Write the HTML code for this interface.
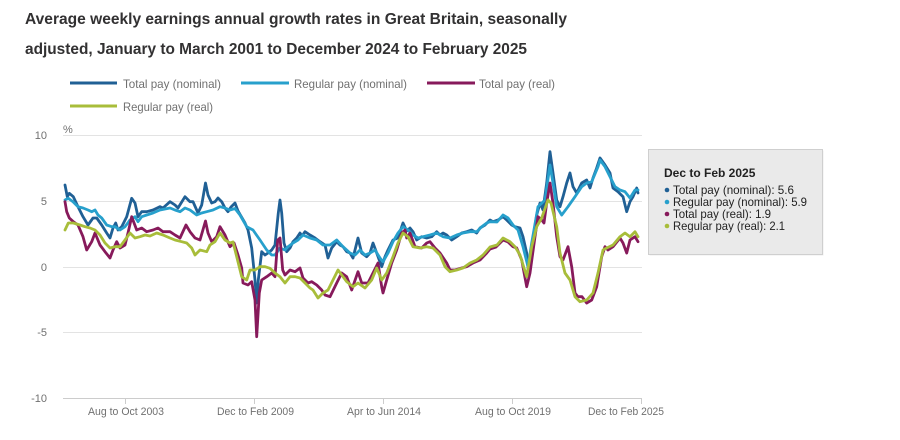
<!DOCTYPE html>
<html><head><meta charset="utf-8"><style>
html,body{margin:0;padding:0;background:#fff;}
svg{display:block;font-family:"Liberation Sans",Arial,sans-serif;}
</style></head><body>
<svg width="900" height="440" viewBox="0 0 900 440" xmlns="http://www.w3.org/2000/svg">
<rect width="900" height="440" fill="#fff"/>
<!-- title -->
<text x="25" y="24" font-size="16" font-weight="bold" fill="#323132" textLength="542" lengthAdjust="spacingAndGlyphs">Average weekly earnings annual growth rates in Great Britain, seasonally</text>
<text x="25" y="54" font-size="16" font-weight="bold" fill="#323132" textLength="502" lengthAdjust="spacingAndGlyphs">adjusted, January to March 2001 to December 2024 to February 2025</text>
<!-- legend -->
<g stroke-width="3" fill="none">
<line x1="70" y1="83" x2="117" y2="83" stroke="#206095"/>
<line x1="241" y1="83" x2="289" y2="83" stroke="#27a0cc"/>
<line x1="427" y1="83" x2="475" y2="83" stroke="#871a5b"/>
<line x1="70" y1="106" x2="117" y2="106" stroke="#a8bd3a"/>
</g>
<g font-size="12" fill="#707070">
<text x="123" y="88" textLength="98" lengthAdjust="spacingAndGlyphs">Total pay (nominal)</text>
<text x="294" y="88" textLength="113" lengthAdjust="spacingAndGlyphs">Regular pay (nominal)</text>
<text x="479" y="88" textLength="76" lengthAdjust="spacingAndGlyphs">Total pay (real)</text>
<text x="123" y="111" textLength="90" lengthAdjust="spacingAndGlyphs">Regular pay (real)</text>
</g>
<!-- grid -->
<g stroke="#e3e3e3" stroke-width="1">
<line x1="63" y1="135.5" x2="642" y2="135.5"/>
<line x1="63" y1="201.5" x2="642" y2="201.5"/>
<line x1="63" y1="267.5" x2="642" y2="267.5"/>
<line x1="63" y1="332.5" x2="642" y2="332.5"/>
</g>
<line x1="63" y1="398.5" x2="642" y2="398.5" stroke="#cccccc" stroke-width="1"/>
<g stroke="#cccccc" stroke-width="1">
<line x1="125.5" y1="398" x2="125.5" y2="404"/>
<line x1="254.5" y1="398" x2="254.5" y2="404"/>
<line x1="383.5" y1="398" x2="383.5" y2="404"/>
<line x1="512.5" y1="398" x2="512.5" y2="404"/>
<line x1="641.5" y1="398" x2="641.5" y2="404"/>
</g>
<!-- y labels -->
<g font-size="11" fill="#707070" text-anchor="end">
<text x="47" y="139">10</text>
<text x="47" y="205">5</text>
<text x="47" y="271">0</text>
<text x="47" y="336">-5</text>
<text x="47" y="402">-10</text>
</g>
<text x="63" y="133" font-size="11" fill="#707070">%</text>
<!-- x labels -->
<g font-size="11" fill="#707070">
<text x="88" y="415" textLength="76" lengthAdjust="spacingAndGlyphs">Aug to Oct 2003</text>
<text x="217" y="415" textLength="77" lengthAdjust="spacingAndGlyphs">Dec to Feb 2009</text>
<text x="347" y="415" textLength="74" lengthAdjust="spacingAndGlyphs">Apr to Jun 2014</text>
<text x="475" y="415" textLength="76" lengthAdjust="spacingAndGlyphs">Aug to Oct 2019</text>
<text x="588" y="415" textLength="76" lengthAdjust="spacingAndGlyphs">Dec to Feb 2025</text>
</g>
<!-- series -->
<g fill="none" stroke-width="2.8" stroke-linejoin="round" stroke-linecap="round">
<polyline stroke="#206095" points="65,185 67.3,196.7 69.3,193.3 73.3,196.7 78,206.7 83,216.7 88,225 93,218 96.7,218 101.7,225 106.7,233 110,238 113,228 115.7,223 118,230 121.7,226.7 126.7,216.7 131.7,198.3 135,203 138,216.7 141.7,211.7 146.7,211.7 153,210 160,206.7 163,208 170,201.7 175,205 178,208 185,196.7 190,201.7 193,201.7 198,213 201.7,205 205.5,183 208,195 211.7,203 215,201.7 218,198 221.7,201.7 225,208 228,211.7 231,207 235,203 238,211 245,223 248,230 251.7,248 255,280 256.7,303 258.3,280 261.7,251.7 265,255 268,253 271.7,250 275,245 278.3,213 280,200 281.7,213 284,243 286.7,251.7 290,248 293,241.7 296.7,238 300,233 302,236 305,231.7 310,235 315,238 320,241.7 325,245 328,258 331.7,248 336.7,241.7 340,245 343,246.7 346.7,251.7 350,253 353,258 358,238 361.7,253 366.7,256.7 370,253 373,243 376.7,253 381.7,266.7 385,256.7 388,250 393,240 398,238 403,223 406.7,231 410,228 413,231.7 416.7,240 421.7,236.7 426.7,238 431.7,236.7 436.7,231.7 440,235 443,233 446.7,235 451.7,240 456.7,236.7 461.7,233 466.7,231.7 471.7,230 476.7,233 480,228 485,225 490,220 493,221.7 498,220 503,216.7 506.7,220 511.7,225 515,226.7 520,228 523,236.7 526.7,253 528,268 531.7,246.7 536.7,215 540,203 543,210 546.7,183 550,151.7 553,173 556.7,200 560,206.7 563,196.7 566.7,183 570,173 573,186.7 576.7,193 581.7,183 586.7,180 590,188 593,178 596.7,168 600,158 605,165 610,173 613,188 618,191.7 623,196.7 626.7,211.7 630,201.7 633,196.7 636.7,188 638,193"/>
<polyline stroke="#27a0cc" points="65,200 68.3,198.3 73,201.7 78,206.7 83,208 88,210 91.7,211.7 95,210 98,215 101.7,218 106.7,225 111.7,226.7 115,226.7 120,230 125,226.7 130,220 135,216.7 138,221.7 141.7,216.7 146.7,215 153,213 160,210 170,208 175,210 180,211.7 185,208 190,210 196.7,215 201.7,213 206.7,211.7 213,210 220,206.7 225,208 230,210 235,208.5 240,215 246.7,226.7 253,230 260,240 266.7,250 271.7,255 275,255 280,248 285,250 288,246.7 293,243 298,240 303,235 310,238 316.7,240 323,245 330,245 336.7,240 343,246.7 350,253 355,255 360,250 365,255 370,253 375,250 380,258 383,261.7 388,253 393,241.7 398,233 403,226.7 408,230 413,235 418,238 423,236.7 430,235 436.7,233 443,236.7 450,238 456.7,235 463,233 470,231.7 476.7,231.7 481.7,226.7 486.7,223 490,221.7 497,222 503,215 508,218 513,225 518,230 523,246.7 528,266.7 531.7,243 538,206.7 545,200 550,165 553,183 556.7,206.7 561.7,215 568,206.7 575,196.7 581.7,186.7 586.7,183 591.7,181.7 598,166.7 600,160 605,166.7 610,176.7 615,186.7 620,190 625,191.7 630,198 635,190 638,190"/>
<polyline stroke="#871a5b" points="65,201.7 66.7,211.7 69.3,218 73.3,221.7 78,225 83,236.7 86.7,250 91.7,241.7 95,233 100,245 105,251.7 110,258 113,250 116.7,241.7 120,248 125,245 128,233 131.7,216.7 136.7,230 141.7,228 146.7,231.7 153,230 158,228 163,231.7 170,231.7 175,235 180,238 186,225 190,231.7 195,238 200,240 205.5,221 208,233 211.7,241.7 216.7,236.7 220,226.7 225,235 230,246.7 234,243 238,255 241.7,268 243,283 248,285 251.7,281.7 255,300 256.7,336.7 259.3,293 261.7,280 266.7,276.7 271.7,273 275,276.7 277.7,240 280,238 282.7,270 285,275 290,270 295,271.7 300,268 303,278 308,283 311.7,281.7 316.7,285 321.7,290 325,295 330,296.7 336.7,283 341.7,273 346.7,276.7 351.7,290 358,271.7 361.7,283 368,283 373,273 378,263 381.7,286.7 383,293 386.7,280 391.7,263 396.7,250 401.7,233 405,230 406.7,238 410,233 415,246.7 421.7,248 426.7,243 430,241.7 435,248 440,253 446.7,263 450,270 455,270 461.7,268 466.7,266.7 473,263 480,260 486.7,253 490,249 496,247 503,240 508,242 513,246.7 516.7,248 521.7,260 526.7,286.7 530,273 535,236.7 538,216.7 541.7,220 544,223 546.7,203 550,183 553,203 556.7,236.7 560,256.7 563,260 568,246.7 571.7,266.7 575,293 578,296.7 582,296.7 586.7,303 591.7,300 596.7,286.7 601.7,256.7 605,246.7 608,250 613,246.7 620,238 623,243 626.7,253 630,240 635,236.7 638,241.7"/>
<polyline stroke="#a8bd3a" points="65,230 68.3,223 73.3,223 80,225 85,226.7 90,228 95,230 100,235 105,243 110,248 115,246.7 120,246.7 125,240 130,233 135,238 140,236.7 145,235 150,236 156.7,233 163,235 170,238 175,240 181.7,241.7 186.7,243 191.7,248 195,255 200,250 206.7,251.7 210,245 215,241.7 220,233 225,240 230,243 233,242 236.7,256.7 241.7,276.7 246.7,280 250,270 255,270 260,266.7 265,266.7 270,268.3 275,273 280,276.7 285,283 290,276.7 295,276.7 300,278 305,283 310,288 313,290 318,298 323,293 328,290 333,280 338,270 343,276.7 346.7,281.7 353,286.7 358,283 365,288 371.7,280 376.7,268 381.7,280 386.7,273 393,256.7 398,243 403,233 408,236.7 413,246.7 420,248 426.7,246.7 433,248 440,255 445,266.7 450,271.7 456.7,270 463,268 470,263 476.7,260 483,255 490,247 497,245 503,238 510,241.7 515,246.7 520,255 526.7,276.7 531.7,246.7 536.7,226.7 541.7,218 548,200 551,203 556.7,226.7 560,253 565,273 570,280 575,296.7 580,301.7 586.7,300 593,293 598,273 603,250 606.7,248 613,245 620,236.7 625,233 630,236.7 635,231.7 638,236.7"/>
</g>
<!-- tooltip -->
<rect x="649.5" y="150.5" width="174" height="105" fill="#bbbbbb" opacity="0.25"/>
<rect x="648.5" y="149.5" width="174" height="105" fill="#eaeaea" stroke="#cfcfcf" stroke-width="1"/>
<text x="664" y="177" font-size="12" font-weight="bold" fill="#222">Dec to Feb 2025</text>
<g font-size="12" fill="#222">
<circle cx="667" cy="190" r="2.3" fill="#206095"/>
<text x="673" y="194" textLength="121" lengthAdjust="spacingAndGlyphs">Total pay (nominal): 5.6</text>
<circle cx="667" cy="202" r="2.3" fill="#27a0cc"/>
<text x="673" y="206" textLength="134" lengthAdjust="spacingAndGlyphs">Regular pay (nominal): 5.9</text>
<circle cx="667" cy="214" r="2.3" fill="#871a5b"/>
<text x="673" y="218" textLength="98" lengthAdjust="spacingAndGlyphs">Total pay (real): 1.9</text>
<circle cx="667" cy="226" r="2.3" fill="#a8bd3a"/>
<text x="673" y="230" textLength="112" lengthAdjust="spacingAndGlyphs">Regular pay (real): 2.1</text>
</g>
</svg>
</body></html>
